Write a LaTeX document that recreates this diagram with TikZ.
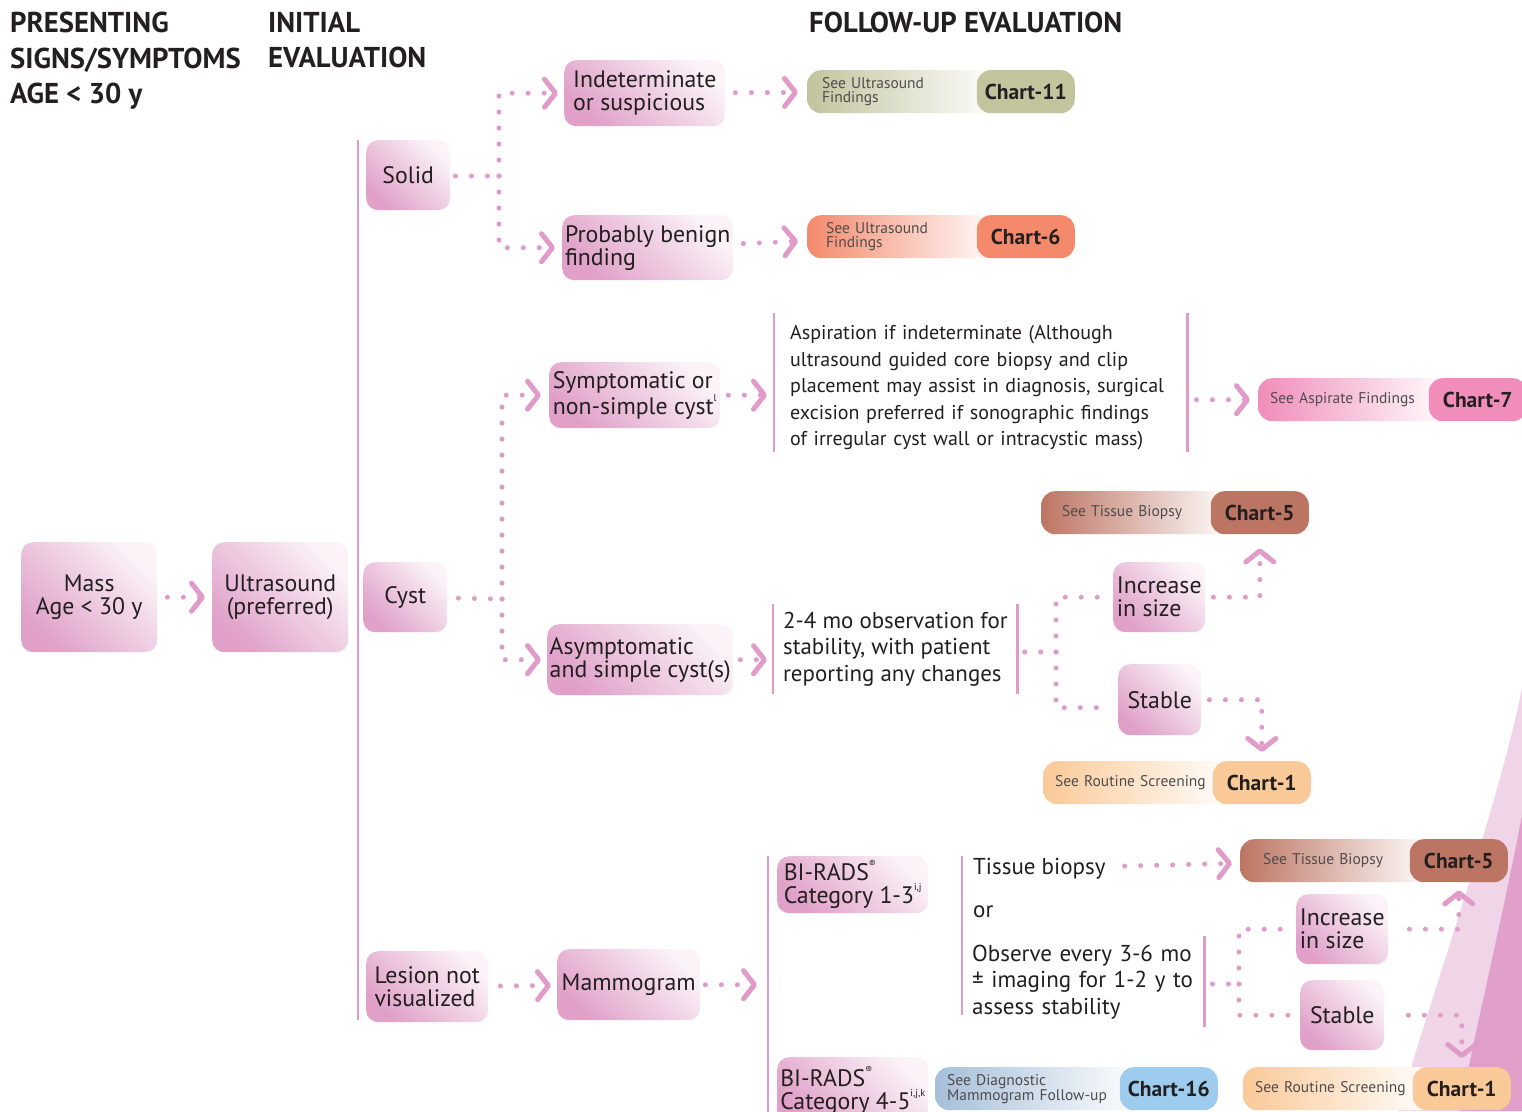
\documentclass[tikz,border=0pt]{standalone}
\usepackage{fontspec}
\setmainfont{PT Sans}
\usetikzlibrary{arrows.meta,calc}

\definecolor{ink}{HTML}{231F20}
\definecolor{pk}{HTML}{E09BC9}
\definecolor{boxdk}{HTML}{E0A0C8}
\definecolor{boxlt}{HTML}{FBF3F8}
\definecolor{olive}{HTML}{C2C49E}
\definecolor{salmon}{HTML}{F4896C}
\definecolor{rose}{HTML}{F08DBA}
\definecolor{clay}{HTML}{BD7563}
\definecolor{peach}{HTML}{FAC998}
\definecolor{sky}{HTML}{9ECCEE}
\definecolor{steel}{HTML}{A6BFD9}
\definecolor{swlight}{HTML}{EFD5E7}
\definecolor{swdark}{HTML}{E0A0C9}

\newcommand\supnote[1]{\raisebox{0.55em}{\fontsize{10}{10}\selectfont #1}}

\tikzset{
  box/.style={anchor=north west, rounded corners=12pt, top color=boxlt,
    bottom color=boxdk, shading angle=-45, inner sep=0pt, align=left,
    text=ink, font=\fontsize{23.8}{23}\selectfont},
  hdr/.style={anchor=north west, inner sep=0pt, align=left, text=ink,
    font=\bfseries\fontsize{28.7}{35.5}\selectfont},
  note/.style={anchor=north west, inner ysep=0pt, align=left, text=ink},
  bracket/.style={draw=pk, line width=2.5pt},
  bleft/.style={anchor=north west, rounded corners=14pt, minimum height=43pt,
    inner ysep=0pt, align=left, text=ink!80,
    font=\fontsize{15.5}{14}\selectfont},
  pill/.style={anchor=north east, rounded corners=14pt, minimum height=43pt,
    minimum width=98pt, inner sep=0pt, text=ink,
    font=\bfseries\fontsize{21.5}{21}\selectfont},
  dotl/.style={draw=pk, line width=5pt, line cap=round,
    dash pattern=on 0pt off 16pt},
  conn/.style={dotl, -{Straight Barb[length=11pt,width=28pt,round]}},
}

\begin{document}
\begin{tikzpicture}[x=1pt,y=-1pt]
\useasboundingbox (0,0) rectangle (1522,1111);
\fill[white] (0,0) rectangle (1522,1111);

% corner swoosh
\fill[swlight] (1522,688) .. controls (1500,800) and (1430,1000) .. (1398,1111)
  -- (1522,1111) -- cycle;
\fill[swdark] (1522,815) .. controls (1500,930) and (1475,1030) .. (1460,1111)
  -- (1522,1111) -- cycle;

% column headings
\node[hdr] (h1) at (10,12) {PRESENTING\\SIGNS/SYMPTOMS\\AGE < 30 y};
\node[hdr] (h2) at (268,12) {INITIAL\\EVALUATION};
\node[hdr] (h3) at (809,12) {FOLLOW-UP EVALUATION};

% main boxes
\node[box, minimum width=136pt, minimum height=110pt, align=center] (mass) at (21,542) {Mass\\Age < 30 y};
\node[box, minimum width=136pt, minimum height=110pt, align=center] (us) at (212,542) {Ultrasound\\(preferred)};
\node[box, minimum width=84pt, minimum height=70pt] (solid) at (366,140) {Solid};
\node[box, minimum width=84pt, minimum height=70pt] (cyst) at (363,562) {Cyst};
\node[box, minimum width=122pt, minimum height=71pt] (lesion) at (366,951) {Lesion not\\visualized};
\node[box, minimum width=161pt, minimum height=66pt] (indet) at (564,60) {Indeterminate\\or suspicious};
\node[box, minimum width=171pt, minimum height=65pt] (prob) at (562,215) {Probably benign\\finding};
\node[box, minimum width=171pt, minimum height=66pt] (symp) at (549,362) {Symptomatic or\\non-simple cyst\supnote{l}};
\node[box, minimum width=186pt, minimum height=71pt] (asym) at (547,624) {Asymptomatic\\and simple cyst(s)};
\node[box, minimum width=143pt, minimum height=71pt] (mammo) at (557,949) {Mammogram};
\node[box, minimum width=151pt, minimum height=57pt] (bir1) at (777,856) {BI-RADS\supnote{®}\\Category 1-3\supnote{i,j}};
\node[box, minimum width=151pt, minimum height=66pt] (bir2) at (777,1057) {BI-RADS\supnote{®}\\Category 4-5\supnote{i,j,k}};
\node[box, minimum width=92pt, minimum height=70pt] (inc1) at (1113,562) {Increase\\in size};
\node[box, minimum width=83pt, minimum height=71pt] (stab1) at (1118,664) {Stable};
\node[box, minimum width=92pt, minimum height=70pt] (inc2) at (1296,894) {Increase\\in size};
\node[box, minimum width=84pt, minimum height=70pt] (stab2) at (1300,980) {Stable};

% bracketed notes
\node[note, inner xsep=16pt, text width=381pt, minimum height=139pt,
  font=\fontsize{20}{26.5}\selectfont] (asp) at (774,318)
  {Aspiration if indeterminate (Although\\ultrasound guided core biopsy and clip\\placement may assist in diagnosis, surgical\\excision preferred if sonographic findings\\of irregular cyst wall or intracystic mass)};
\node[note, inner xsep=10pt, minimum height=90pt,
  font=\fontsize{22.9}{26.5}\selectfont] (obs) at (773,604)
  {2-4 mo observation for\\stability, with patient\\reporting any changes};
\node[anchor=base west, inner sep=0pt, text=ink, font=\fontsize{23}{26.5}\selectfont] (tb) at (973,874) {Tissue biopsy};
\node[anchor=base west, inner sep=0pt, text=ink, font=\fontsize{23}{26.5}\selectfont] (orr) at (973,917) {or};
\node[note, inner xsep=10pt, text width=222pt, minimum height=91pt,
  font=\fontsize{23}{26.5}\selectfont] (obs2) at (962,936)
  {Observe every 3-6 mo\\± imaging for 1-2 y to\\assess stability};

\draw[bracket] (358,140) -- (358,1020);
\draw[bracket] ($(asp.north west)+(0,-5)$) -- ($(asp.south west)+(0,-5)$);
\draw[bracket] ($(asp.north east)+(0,-5)$) -- ($(asp.south east)+(0,-5)$);
\draw[bracket] (obs.north west) -- (obs.south west);
\draw[bracket] (obs.north east) -- (obs.south east);
\coordinate (bl1) at (768,856);
\coordinate (bl2) at (768,1115);
\draw[bracket] (bl1) -- (bl2);
\draw[bracket] (962,856) -- (962,1015);
\draw[bracket] (obs2.north east) -- (obs2.south east);

% chart references
\node[bleft, left color=olive, right color=white, inner xsep=15pt, text width=162pt] (b11) at (807,70) {See Ultrasound\\Findings};
\node[pill, fill=olive] (c11) at (1075,70) {Chart-11};
\node[bleft, left color=salmon, right color=white, inner xsep=19pt, text width=154pt] (b6) at (807,215) {See Ultrasound\\Findings};
\node[pill, fill=salmon] (c6) at (1075,215) {Chart-6};
\node[bleft, left color=rose, right color=white, inner xsep=12pt, text width=169pt] (b7) at (1258,378) {See Aspirate Findings};
\node[pill, fill=rose] (c7) at (1527,378) {Chart-7};
\node[bleft, left color=clay, right color=white, inner xsep=21pt, text width=150pt] (b5a) at (1041,491) {See Tissue Biopsy};
\node[pill, fill=clay] (c5a) at (1309,491) {Chart-5};
\node[bleft, left color=peach, right color=white, inner xsep=12pt, text width=168pt] (b1a) at (1043,761) {See Routine Screening};
\node[pill, fill=peach] (c1a) at (1311,761) {Chart-1};
\node[bleft, left color=clay, right color=white, inner xsep=23pt, text width=146pt] (b5b) at (1240,839) {See Tissue Biopsy};
\node[pill, fill=clay] (c5b) at (1508,839) {Chart-5};
\node[bleft, left color=peach, right color=white, inner xsep=12pt, text width=168pt] (b1b) at (1243,1067) {See Routine Screening};
\node[pill, fill=peach] (c1b) at (1511,1067) {Chart-1};
\node[bleft, left color=steel, right color=white, inner xsep=12pt, text width=183pt] (b16) at (935,1067) {See Diagnostic\\Mammogram Follow-up};
\node[pill, fill=sky] (c16) at (1218,1067) {Chart-16};

% connectors
\draw[conn, shorten <=10pt, shorten >=7pt] (mass) -- (us);

\coordinate (jS) at (499,176);
\draw[dotl, shorten <=5pt] (solid.east |- jS) -- (jS);
\draw[conn, shorten >=6pt] (jS) |- (indet);
\draw[conn, shorten >=7pt] (jS) |- (prob);
\draw[conn, shorten <=10pt, shorten >=9pt] (indet) -- (b11);
\draw[conn, shorten <=10pt, shorten >=9pt] (prob) -- (b6);

\coordinate (jC) at (502,599);
\draw[dotl, shorten <=11pt] (cyst) -- (jC);
\draw[conn, shorten >=8pt] (jC) |- (symp);
\draw[conn, shorten >=6pt] (jC) |- (asym);
\draw[conn, shorten <=8pt, shorten >=7pt] (symp) -- (symp -| asp.west);
\draw[conn, shorten <=7pt, shorten >=6pt] (asym) -- (asym -| obs.west);
\draw[conn, shorten <=9pt, shorten >=8pt] (asp.east |- b7) -- (b7);

\coordinate (jO) at (1056,652);
\draw[dotl, shorten <=7pt] (obs.east |- jO) -- (jO);
\draw[dotl, shorten >=10pt] (jO) |- (inc1);
\draw[dotl, shorten >=10pt] (jO) |- ($(stab1.west)+(0,8)$);
\draw[conn, shorten <=8pt, shorten >=14pt] (inc1) -| (c5a);
\draw[conn, shorten <=8pt, shorten >=9pt] (stab1) -| (c1a);

\draw[conn, shorten <=12pt, shorten >=6pt] (lesion) -- (mammo);
\draw[conn, shorten <=5pt, shorten >=11pt] (mammo) -- (mammo -| bl1);

\draw[conn, shorten <=19pt, shorten >=8pt] (tb) -- (b5b);
\coordinate (jO2) at (1239,984);
\draw[dotl, shorten <=8pt] (obs2.east |- jO2) -- (jO2);
\draw[dotl, shorten >=10pt] (jO2) |- (inc2);
\draw[dotl, shorten >=10pt] (jO2) |- (stab2);
\draw[conn, shorten <=21pt, shorten >=8pt] (inc2) -| (c5b);
\draw[conn, shorten <=24pt, shorten >=9pt] (stab2) -| (c1b);
\end{tikzpicture}
\end{document}
